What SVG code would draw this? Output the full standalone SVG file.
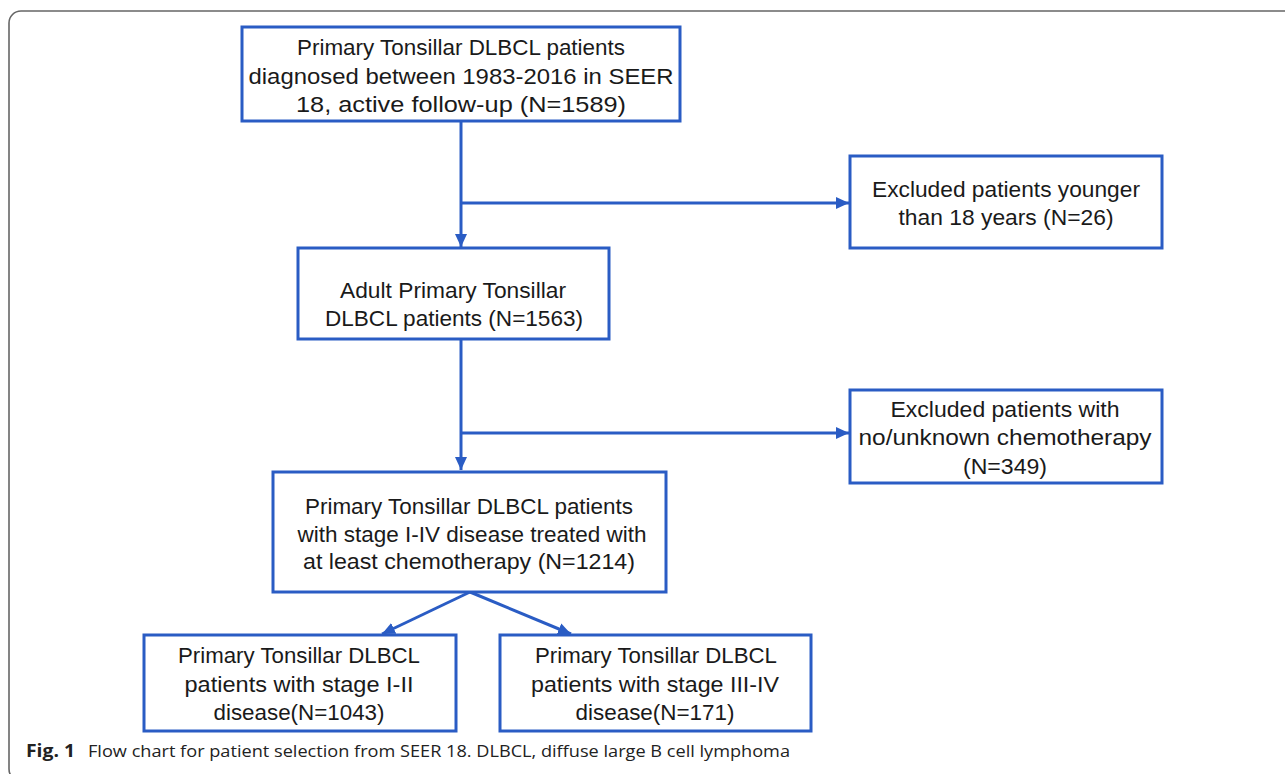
<svg xmlns="http://www.w3.org/2000/svg" width="1285" height="774" viewBox="0 0 1285 774">
<style>
.frame{fill:none;stroke:#666;stroke-width:1.6}
.box{fill:#fff;stroke:#2a5cc4;stroke-width:3}
.t{font-family:"Liberation Sans","Noto Sans",sans-serif;font-size:22px;fill:#1a1a1a;text-anchor:middle}
.c{stroke:#2a5cc4;stroke-width:3;fill:none}
.cap{font-family:"Open Sans","Noto Sans",sans-serif;font-size:17px;fill:#222}
</style>
<defs>
<marker id="ah" markerUnits="userSpaceOnUse" markerWidth="14" markerHeight="14" viewBox="0 0 14 14" refX="13" refY="7" orient="auto">
<path d="M0,1 L13,7 L0,13 Z" fill="#2a5cc4"/>
</marker>
</defs>
<rect class="frame" x="9" y="11" width="1300" height="770" rx="12"/>
<g id="connectors">
<line class="c" x1="461" y1="121" x2="461" y2="247" marker-end="url(#ah)"/>
<line class="c" x1="461" y1="203" x2="849" y2="203" marker-end="url(#ah)"/>
<line class="c" x1="461" y1="339" x2="461" y2="470" marker-end="url(#ah)"/>
<line class="c" x1="461" y1="433" x2="849" y2="433" marker-end="url(#ah)"/>
<line class="c" x1="470" y1="592" x2="382" y2="634" marker-end="url(#ah)"/>
<line class="c" x1="470" y1="592" x2="571" y2="634" marker-end="url(#ah)"/>
</g>
<g id="n1">
<rect class="box" x="242" y="27" width="438" height="94"/>
<text class="t" x="461" y="55" textLength="328" lengthAdjust="spacingAndGlyphs">Primary Tonsillar DLBCL patients</text>
<text class="t" x="461" y="84" textLength="425" lengthAdjust="spacingAndGlyphs">diagnosed between 1983-2016 in SEER</text>
<text class="t" x="461" y="112" textLength="330" lengthAdjust="spacingAndGlyphs">18, active follow-up (N=1589)</text>
</g>
<g id="n2">
<rect class="box" x="850" y="156" width="312" height="92"/>
<text class="t" x="1006" y="197" textLength="268" lengthAdjust="spacingAndGlyphs">Excluded patients younger</text>
<text class="t" x="1006" y="225" textLength="215" lengthAdjust="spacingAndGlyphs">than 18 years (N=26)</text>
</g>
<g id="n3">
<rect class="box" x="298" y="248" width="311" height="91"/>
<text class="t" x="453" y="298" textLength="226" lengthAdjust="spacingAndGlyphs">Adult Primary Tonsillar</text>
<text class="t" x="454" y="326" textLength="258" lengthAdjust="spacingAndGlyphs">DLBCL patients (N=1563)</text>
</g>
<g id="n4">
<rect class="box" x="850" y="390" width="312" height="93"/>
<text class="t" x="1005" y="417" textLength="229" lengthAdjust="spacingAndGlyphs">Excluded patients with</text>
<text class="t" x="1005" y="445" textLength="293" lengthAdjust="spacingAndGlyphs">no/unknown chemotherapy</text>
<text class="t" x="1005" y="474" textLength="84" lengthAdjust="spacingAndGlyphs">(N=349)</text>
</g>
<g id="n5">
<rect class="box" x="273" y="472" width="393" height="120"/>
<text class="t" x="469" y="514" textLength="328" lengthAdjust="spacingAndGlyphs">Primary Tonsillar DLBCL patients</text>
<text class="t" x="472" y="542" textLength="349" lengthAdjust="spacingAndGlyphs">with stage I-IV disease treated with</text>
<text class="t" x="469" y="569" textLength="332" lengthAdjust="spacingAndGlyphs">at least chemotherapy (N=1214)</text>
</g>
<g id="n6">
<rect class="box" x="144" y="635" width="312" height="96"/>
<text class="t" x="299" y="663" textLength="242" lengthAdjust="spacingAndGlyphs">Primary Tonsillar DLBCL</text>
<text class="t" x="299" y="692" textLength="229" lengthAdjust="spacingAndGlyphs">patients with stage I-II</text>
<text class="t" x="299" y="720" textLength="171" lengthAdjust="spacingAndGlyphs">disease(N=1043)</text>
</g>
<g id="n7">
<rect class="box" x="500" y="635" width="311" height="96"/>
<text class="t" x="656" y="663" textLength="242" lengthAdjust="spacingAndGlyphs">Primary Tonsillar DLBCL</text>
<text class="t" x="655" y="692" textLength="248" lengthAdjust="spacingAndGlyphs">patients with stage III-IV</text>
<text class="t" x="655" y="720" textLength="159" lengthAdjust="spacingAndGlyphs">disease(N=171)</text>
</g>
<g id="caption">
<text class="cap" x="26" y="757" font-weight="bold" textLength="49" lengthAdjust="spacingAndGlyphs">Fig. 1</text>
<text class="cap" x="88" y="757" textLength="702" lengthAdjust="spacingAndGlyphs">Flow chart for patient selection from SEER 18. DLBCL, diffuse large B cell lymphoma</text>
</g>
</svg>
